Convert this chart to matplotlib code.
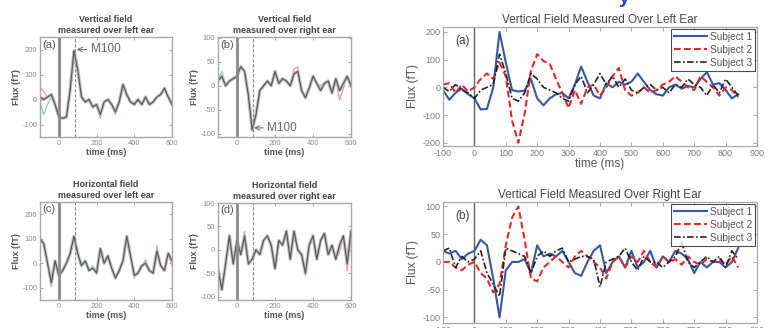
import matplotlib
matplotlib.use('Agg')
import matplotlib.pyplot as plt
import numpy as np

plt.rcParams['font.family'] = ['Liberation Sans', 'DejaVu Sans']
plt.rcParams['axes.unicode_minus'] = False

# ---------------- data: left (averaged) panels ----------------
t_left = list(range(-100, 601, 20))

a_gray = [10, 0, 10, 20, -20, -70, -75, -70, 40, 195, 120, 10, -10, 0, -30, -20, -60, -10,
          0, -20, -50, -10, 60, 20, -10, -20, 0, -20, 10, -20, -10, 10, 20, 45, 10, -20]
a_red_off = [40, 30, 0, 0, 0, 0, 0, 0, 0, 0, 0, 0, 0, 0, 0, 0, -15, 0,
             0, 0, -10, 0, 0, 0, 0, 10, 0, 0, 0, 0, 0, 0, 0, 0, 0, 0]
a_blue_off = [-20, -60, -30, -10, 0, 0, 0, 0, -10, -40, 0, 0, 0, 0, 0, 0, 0, 0,
              0, 0, 0, 0, 0, 0, 0, 0, 0, 0, 0, 0, 0, 0, 0, 0, 0, 0]

b_gray = [10, 20, 0, 10, 15, 20, 40, 30, -20, -92, -60, -10, 0, 10, 0, 30, 5, 15,
          10, 0, 25, 30, -10, -25, -5, 20, 5, -10, 5, 10, -15, 15, -10, 5, 20, 0]
b_red_off = [0, 0, 0, 0, 0, 0, 0, 0, 0, 0, 0, 0, 0, 0, 0, 0, 0, 0,
             0, 0, 10, 10, 0, 0, 0, 0, 0, 10, 0, 0, 0, 0, -20, -10, 0, 0]
b_blue_off = [0, 10, 0, 0, 0, 0, 0, 0, 0, 0, 0, 0, 0, 0, 0, 0, 0, 0,
              0, 0, 0, 0, 0, 0, 0, 0, 0, 0, 0, 0, 5, 0, 0, 0, 0, 0]

c_gray = [100, 80, 0, -80, 10, -50, -30, 0, 40, 110, 40, -10, 10, -30, -20, -40, 60, 0,
          30, -20, -60, -30, 10, 110, 30, -50, -40, -10, 0, -30, -40, 50, -10, -30, 40, 10]
c_red_off = [0, 0, 0, -15, 0, 0, 0, 0, 0, 0, 0, 0, 0, 0, 0, 0, 0, 0,
             0, 0, 0, 0, 0, 0, 0, -10, 0, 0, 15, 0, 0, 20, 0, 0, 0, -20]
c_blue_off = [0, 0, 0, 0, 0, 0, 10, 0, 0, 0, 0, 0, 0, 0, 10, 0, 0, 0,
              0, 0, 0, 0, 0, 0, 0, 0, 0, 0, 0, 0, 0, 0, 0, 0, 0, 0]

d_gray = [-40, -85, -30, 30, -30, 20, -10, 30, -30, -20, 0, -10, 20, 30, 10, -40, 20, 10,
          40, -20, 40, 0, -10, -50, 10, 30, -20, 20, 35, -10, 10, -20, 10, 30, -30, 40]
d_red_off = [0, 0, 0, 0, 0, 0, 0, 0, 0, 0, 0, 0, 0, 0, -10, 0, 0, 0,
             0, 0, 0, 0, 0, -5, 0, 0, 0, 0, 0, 0, 0, 0, -15, 0, -15, 0]
d_blue_off = [0, 0, 0, 0, 0, 0, 10, 10, 0, 0, 0, 0, 0, 0, 0, 0, 0, 0,
              0, 0, 0, 0, 0, 0, 0, 0, 0, 0, 0, 0, 0, 0, 0, 0, 0, 0]

left_titles = ['Vertical field\nmeasured over left ear', 'Vertical field\nmeasured over right ear',
               'Horizontal field\nmeasured over left ear', 'Horizontal field\nmeasured over right ear']
left_labels = ['(a)', '(b)', '(c)', '(d)']

# ---------------- data: right (individual subjects) panels ----------------
t_right = list(range(-100, 841, 20))
subjects = ['Subject 1', 'Subject 2', 'Subject 3']

ra_s1 = [-10, -45, -20, -5, -25, -40, -80, -78, 0, 200, 90, -10, -15, -12, 30, -40, -65, -40,
         -25, -20, -40, 10, 75, 20, -30, -40, 15, 0, 20, 10, 20, 50, 20, -10, -25, -30,
         0, 10, -5, 5, 0, 30, 55, 10, 15, -10, -40, -25]
ra_s2 = [10, 15, -20, 10, -15, 0, 30, 50, 30, 90, 40, -120, -200, -95, 60, 120, 95, 85,
         30, -20, -75, -10, -60, 0, 10, -30, 0, 40, 70, -10, -30, -20, 0, -20, -10, 10,
         20, 40, 20, 0, -10, 40, 20, 0, -30, 0, -10, -35]
ra_s3 = [0, -15, 10, -10, -20, -40, -10, 0, 10, 120, 50, -40, -50, -20, 50, 30, 0, -10,
         -20, -40, -50, 10, 40, -20, 10, 50, 10, 40, 0, 30, -10, -20, 0, 10, -10, 0,
         -20, 10, 0, 30, 10, 0, -30, 10, -20, 30, 0, -30]

rb_s1 = [20, 15, 20, 5, 15, 20, 40, 30, -30, -100, -15, 0, 0, 5, -20, 30, 10, 15,
         10, 20, 0, -20, -25, 0, 20, 30, -20, 0, 10, -10, 20, -10, 0, 20, -10, 10,
         0, 20, 15, 5, -20, 0, -10, 0, 0, -10, 0, 25]
rb_s2 = [0, 0, -10, -15, -5, 0, -20, -30, -55, -40, 30, 80, 100, 40, -30, -35, -10, 0,
         10, 0, -10, 10, 20, 10, 0, -10, -30, 0, 10, -10, 10, 0, 20, 0, -10, 10,
         0, 5, -5, 10, 0, -5, 5, 0, 5, -5, 10, -10]
rb_s3 = [20, 25, -10, 10, 0, 5, 20, -20, -40, -62, 25, 20, 15, 10, -20, 10, 20, 10,
         20, 25, 0, 5, 10, 10, 5, -45, 0, 5, 10, 25, 0, -15, 10, 0, 0, -10,
         0, 10, 35, 0, -10, 0, 10, 0, 10, -10, 20, 5]

right_titles = ['Vertical Field Measured Over Left Ear', 'Vertical Field Measured Over Right Ear']

# ---------------- figure ----------------
W, H = 772, 328
fig = plt.figure(figsize=(W / 100, H / 100), dpi=100)


def ax_px(x0, y0, x1, y1):
    return fig.add_axes([x0 / W, 1 - y1 / H, (x1 - x0) / W, (y1 - y0) / H])


left_boxes = [(40, 37, 172, 137), (218, 37, 351, 137), (40, 202, 172, 300), (218, 203, 351, 300)]
left_data = [(a_gray, a_red_off, a_blue_off), (b_gray, b_red_off, b_blue_off),
             (c_gray, c_red_off, c_blue_off), (d_gray, d_red_off, d_blue_off)]
left_ylims = [(-150, 250), (-107, 102), (-150, 250), (-107, 100)]
left_yticks = [[-100, 0, 100, 200], [-100, -50, 0, 50, 100], [-100, 0, 100, 200], [-100, -50, 0, 50, 100]]

tl = np.array(t_left)
for i, box in enumerate(left_boxes):
    ax = ax_px(*box)
    g, ro, bo = left_data[i]
    g = np.array(g, float)
    ax.plot(tl, g + np.array(ro), color='#f29a9a', lw=0.9)
    ax.plot(tl, g + np.array(bo), color='#8ec6e6', lw=0.9)
    ax.plot(tl, g, color='#c2c2c2', lw=2.4)
    ax.plot(tl, g, color='#5a5a5a', lw=0.9)
    ax.axvline(0, color='#8a8a8a', lw=2.0)
    ax.axvline(85, color='#8a8a8a', lw=0.8, ls=(0, (3, 1.5)))
    ax.set_xlim(-100, 600)
    ax.set_ylim(*left_ylims[i])
    ax.set_xticks([0, 200, 400, 600])
    ax.set_yticks(left_yticks[i])
    ax.tick_params(direction='in', length=2, width=0.6, labelsize=5.5, colors='#9a9a9a',
                   labelcolor='#8a8a8a', top=True, right=True, pad=2)
    for s in ax.spines.values():
        s.set_color('#a8a8a8')
        s.set_linewidth(1.0)
    ax.set_xlabel('time (ms)', fontsize=6.5, fontweight='bold', color='#555555', labelpad=1)
    ax.set_ylabel('Flux (fT)', fontsize=6.5, fontweight='bold', color='#555555', labelpad=1)
    ax.set_title(left_titles[i], fontsize=6.5, fontweight='bold', color='#444444', pad=3,
                 linespacing=1.2)
    ax.text(0.015, 0.975, left_labels[i], transform=ax.transAxes, fontsize=8, color='#555555',
            va='top', ha='left')
    if i == 0:
        ax.annotate('M100', xy=(95, 200), xytext=(170, 200), fontsize=8.5, color='#666666',
                    va='center', ha='left',
                    arrowprops=dict(arrowstyle='->', color='#666666', lw=0.7, shrinkA=1, shrinkB=0))
    if i == 1:
        ax.annotate('M100', xy=(90, -88), xytext=(160, -88), fontsize=8.5, color='#666666',
                    va='center', ha='left',
                    arrowprops=dict(arrowstyle='->', color='#666666', lw=0.7, shrinkA=1, shrinkB=0))

# right panels
tr = np.array(t_right)
right_boxes = [(443, 27, 757, 146), (443, 202, 757, 323)]
right_data = [(ra_s1, ra_s2, ra_s3), (rb_s1, rb_s2, rb_s3)]
right_ylims = [(-212, 218), (-110, 108)]
right_yticks = [[-200, -100, 0, 100, 200], [-100, -50, 0, 50, 100]]
right_labels = ['(a)', '(b)']
styles = [dict(color='#3a57a6', ls='-', lw=1.5),
          dict(color='#e02a2a', ls=(0, (3.2, 1.6)), lw=1.5),
          dict(color='#222222', ls=(0, (4, 1.4, 1, 1.4)), lw=1.2)]

for j, box in enumerate(right_boxes):
    ax = ax_px(*box)
    ax.axvline(0, color='#606060', lw=1.0)
    for k in range(3):
        ax.plot(tr, right_data[j][k], label=subjects[k], **styles[k])
    ax.set_xlim(-100, 900)
    ax.set_ylim(*right_ylims[j])
    ax.set_xticks(list(range(-100, 901, 100)))
    ax.set_yticks(right_yticks[j])
    ax.tick_params(direction='in', length=3, width=0.6, labelsize=6.5, colors='#9a9a9a',
                   labelcolor='#7a7a7a', top=True, right=True, pad=2)
    for s in ax.spines.values():
        s.set_color('#a8a8a8')
        s.set_linewidth(0.9)
    ax.set_ylabel('Flux (fT)', fontsize=8.5, color='#555555', labelpad=2)
    if j == 0:
        ax.set_xlabel('time (ms)', fontsize=8.5, color='#555555', labelpad=0)
    ax.set_title(right_titles[j], fontsize=8.5, color='#444444', pad=3)
    ax.text(0.04, 0.93, right_labels[j], transform=ax.transAxes, fontsize=8.5, color='#444444',
            va='top', ha='left')
    leg = ax.legend(loc='upper right', fontsize=7.3, frameon=True, fancybox=False,
                    edgecolor='#222222', borderpad=0.3, labelspacing=0.3, handlelength=3.3,
                    handletextpad=0.3, borderaxespad=0.15)
    leg.get_frame().set_linewidth(0.8)
    for txt in leg.get_texts():
        txt.set_color('#555555')

# clipped blue fragment of a heading at the top edge
fig.text(619 / W, 1 - 3 / H, 'y', color='#2a3cc8', fontsize=14, fontweight='bold',
         va='baseline', ha='left')

fig.savefig('out.png', dpi=100)
